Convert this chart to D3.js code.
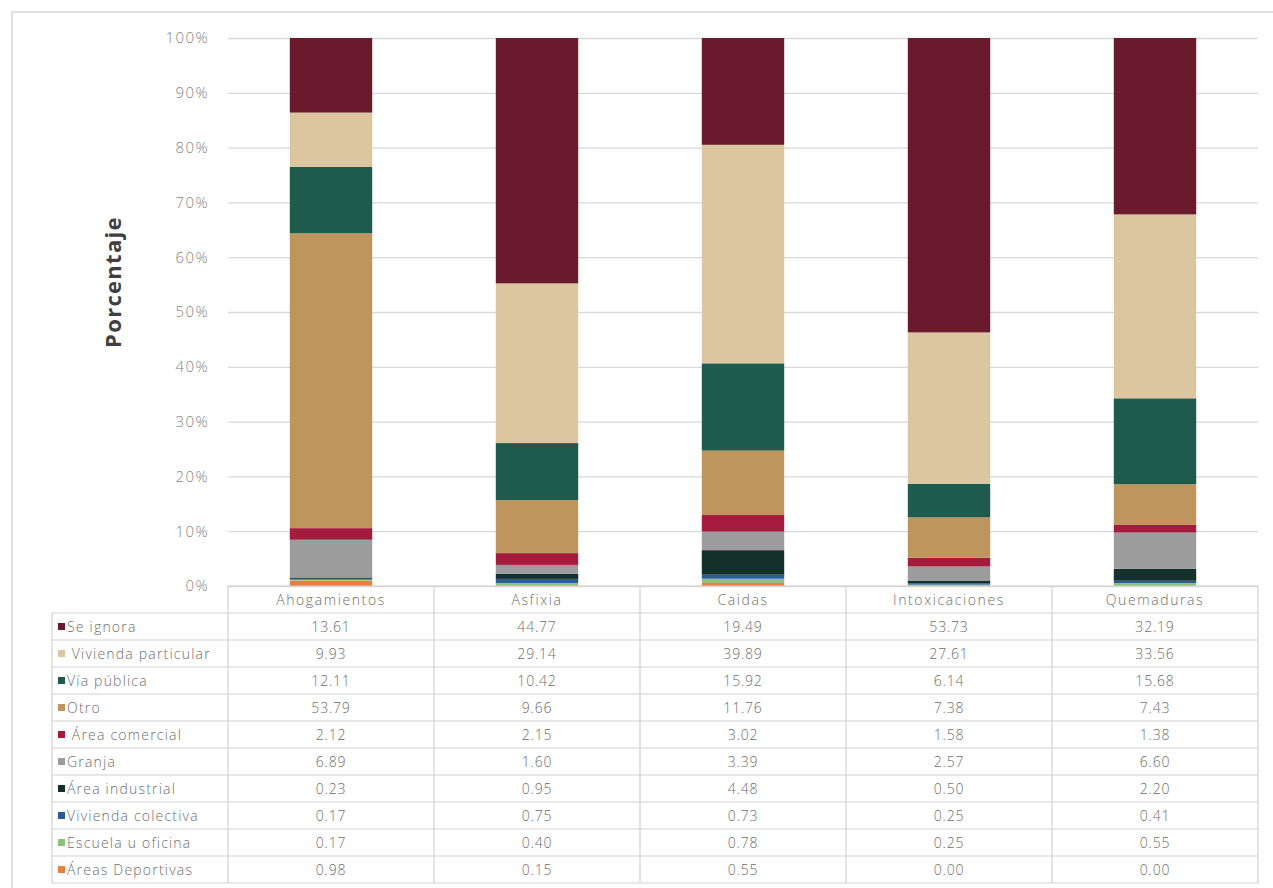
<!DOCTYPE html>
<html>
<head>
<meta charset="utf-8">
<script src="https://cdn.jsdelivr.net/npm/d3@7"></script>
<style>
  html, body { margin: 0; padding: 0; background: #fff; }
  svg { display: block; font-family: "Open Sans", "Noto Sans", sans-serif; }
</style>
</head>
<body>
<svg id="chart" width="1273" height="888"></svg>
<script>
// Causes (columns) of the stacked bars
const categories = ["Ahogamientos", "Asfixia", "Caidas", "Intoxicaciones", "Quemaduras"];

// Place of occurrence, in table order (top of the stack first)
const seriesNames = [
  "Se ignora", " Vivienda particular", "Vía pública", "Otro", " Área comercial",
  "Granja", "Área industrial", "Vivienda colectiva", "Escuela u oficina", "Áreas Deportivas"
];

const seriesColors = [
  "#6a1a2d", "#dcc6a0", "#1f5b4c", "#bd955d", "#a51b3d",
  "#9c9c9c", "#13302a", "#2c5c98", "#8cc17a", "#e8803f"
];

// Percentages per place, one value per category
const seIgnora           = [13.61, 44.77, 19.49, 53.73, 32.19];
const viviendaParticular = [9.93, 29.14, 39.89, 27.61, 33.56];
const viaPublica         = [12.11, 10.42, 15.92, 6.14, 15.68];
const otro               = [53.79, 9.66, 11.76, 7.38, 7.43];
const areaComercial      = [2.12, 2.15, 3.02, 1.58, 1.38];
const granja             = [6.89, 1.60, 3.39, 2.57, 6.60];
const areaIndustrial     = [0.23, 0.95, 4.48, 0.50, 2.20];
const viviendaColectiva  = [0.17, 0.75, 0.73, 0.25, 0.41];
const escuelaOficina     = [0.17, 0.40, 0.78, 0.25, 0.55];
const areasDeportivas    = [0.98, 0.15, 0.55, 0.00, 0.00];

const seriesValues = [
  seIgnora, viviendaParticular, viaPublica, otro, areaComercial,
  granja, areaIndustrial, viviendaColectiva, escuelaOficina, areasDeportivas
];

const yTicks = [0, 0.1, 0.2, 0.3, 0.4, 0.5, 0.6, 0.7, 0.8, 0.9, 1.0];

const FONT = "'Open Sans', 'Noto Sans', sans-serif";
const svg = d3.select("#chart");

// outer frame
svg.append("rect")
  .attr("x", 12).attr("y", 12).attr("width", 1300).attr("height", 900)
  .attr("fill", "none").attr("stroke", "#e0e0e0").attr("stroke-width", 2);

const plotLeft = 228, plotRight = 1258, plotTop = 38, plotBottom = 586;

const x = d3.scaleBand().domain(categories).range([plotLeft, plotRight]).paddingInner(0.6).paddingOuter(0.3);
const colScale = d3.scaleBand().domain(categories).range([plotLeft, plotRight]);
const y = d3.scaleLinear().domain([0, 1]).range([plotBottom, plotTop]);

// build rows for the stack, normalised to 100%
const rows = categories.map((c, i) => {
  const r = { cat: c };
  const total = d3.sum(seriesValues, s => s[i]);
  seriesNames.forEach((n, k) => { r[n] = seriesValues[k][i] / total; });
  return r;
});

// stack from the bottom: last series in the table sits at the base
const stackKeys = seriesNames.slice().reverse();
const stacked = d3.stack().keys(stackKeys)(rows);
const color = d3.scaleOrdinal().domain(seriesNames).range(seriesColors);

// gridlines and y axis labels
const yAxis = d3.axisLeft(y).tickValues(yTicks).tickFormat(d3.format(".0%"))
  .tickSize(-(plotRight - plotLeft)).tickPadding(19);
const gAxis = svg.append("g").attr("transform", `translate(${plotLeft},0)`).call(yAxis)
  .attr("font-family", FONT);
gAxis.select(".domain").remove();
gAxis.selectAll(".tick line").attr("stroke", "#d9d9d9").attr("stroke-width", 1.3);
gAxis.selectAll(".tick text").attr("fill", "#858585").attr("font-size", 15)
  .attr("font-weight", 300).attr("letter-spacing", 1.4);

// bars
svg.append("g").selectAll("g").data(stacked).join("g")
  .attr("fill", d => color(d.key))
  .selectAll("rect").data(d => d).join("rect")
  .attr("x", d => x(d.data.cat))
  .attr("width", x.bandwidth())
  .attr("y", d => y(d[1]))
  .attr("height", d => y(d[0]) - y(d[1]));

// y title
svg.append("text")
  .attr("transform", `translate(121,${(plotTop + plotBottom) / 2 - 30}) rotate(-90)`)
  .attr("text-anchor", "middle")
  .attr("font-size", 22).attr("font-weight", 700).attr("fill", "#3f3f3f")
  .attr("letter-spacing", 1.3)
  .text("Porcentaje");

// data table
const tableLeft = 52, headerTop = 586, headerH = 27, rowH = 27;
const tableBottom = headerTop + headerH + rowH * seriesNames.length;
const grid = svg.append("g").attr("stroke", "#d2d2d2").attr("stroke-width", 1.2);

// header row line (only over the category columns)
grid.append("line").attr("x1", plotLeft).attr("x2", plotRight).attr("y1", headerTop).attr("y2", headerTop);
// horizontal lines for data rows
d3.range(seriesNames.length + 1).forEach(i => {
  const yy = headerTop + headerH + i * rowH;
  grid.append("line").attr("x1", tableLeft).attr("x2", plotRight).attr("y1", yy).attr("y2", yy);
});
// vertical lines
grid.append("line").attr("x1", tableLeft).attr("x2", tableLeft)
  .attr("y1", headerTop + headerH).attr("y2", tableBottom);
categories.forEach(c => {
  grid.append("line").attr("x1", colScale(c)).attr("x2", colScale(c))
    .attr("y1", headerTop).attr("y2", tableBottom);
});
grid.append("line").attr("x1", plotRight).attr("x2", plotRight)
  .attr("y1", headerTop).attr("y2", tableBottom);

const txt = svg.append("g").attr("fill", "#6e6e6e").attr("font-size", 14)
  .attr("font-weight", 300).attr("font-family", FONT);

// header labels
categories.forEach(c => {
  txt.append("text").attr("x", colScale(c) + colScale.bandwidth() / 2)
    .attr("y", headerTop + headerH / 2 + 5).attr("text-anchor", "middle")
    .attr("letter-spacing", 1.6).text(c);
});

// series rows: legend key, name and values
seriesNames.forEach((n, k) => {
  const cy = headerTop + headerH + k * rowH + rowH / 2;
  svg.append("rect").attr("x", 58).attr("y", cy - 3.5).attr("width", 7).attr("height", 7)
    .attr("fill", color(n));
  txt.append("text").attr("x", 67).attr("y", cy + 5).attr("xml:space", "preserve")
    .attr("letter-spacing", 1.2).style("white-space", "pre").text(n);
  categories.forEach((c, i) => {
    txt.append("text").attr("x", colScale(c) + colScale.bandwidth() / 2)
      .attr("y", cy + 5).attr("text-anchor", "middle").attr("letter-spacing", 0.8)
      .text(d3.format(".2f")(seriesValues[k][i]));
  });
});
</script>
</body>
</html>
